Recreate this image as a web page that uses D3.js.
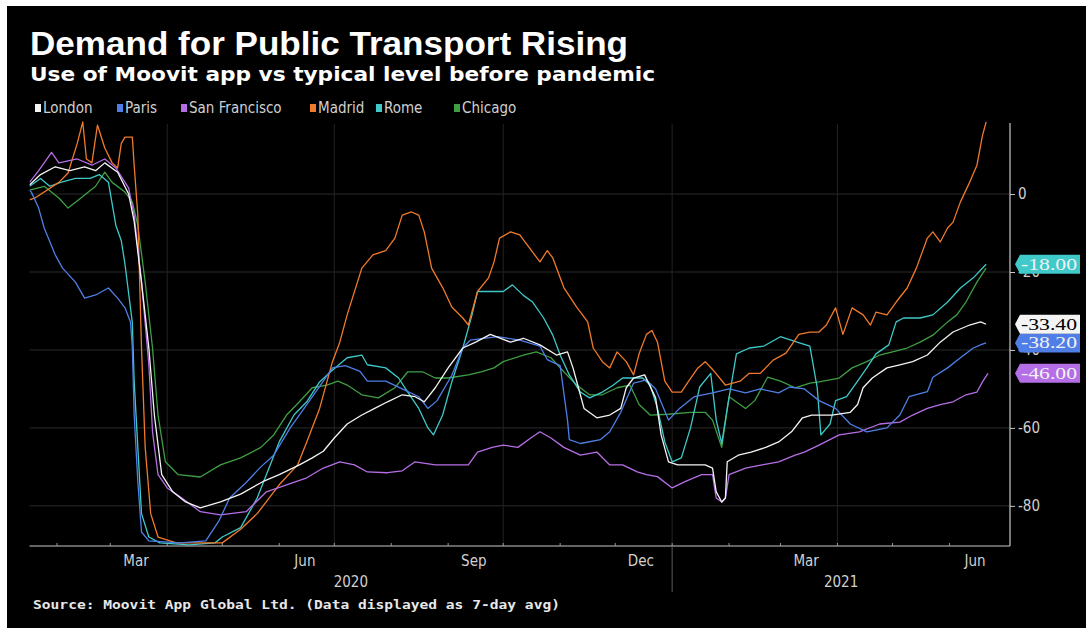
<!DOCTYPE html>
<html>
<head>
<meta charset="utf-8">
<script src="https://cdn.jsdelivr.net/npm/d3@7"></script>
<style>
  html, body { margin: 0; padding: 0; background: #ffffff; }
  svg { display: block; }
</style>
</head>
<body>
<svg id="chart" width="1092" height="635"></svg>
<script>
// Moovit app usage vs pre-pandemic typical level (%), 7-day average.
// Each point is [days since 2020-01-17, value].
const startDate = new Date(2020, 0, 17);

const london = [[0,2.3],[6,5],[14,7],[22,6],[30,7],[36,6],[41,8],[48,5.6],[54,0],[57,-7],[61,-22.6],[65,-39.5],[68,-56.7],[72,-72],[78,-76.4],[85,-79],[93,-80.5],[104,-79],[115,-77],[127,-73.8],[136,-72],[147,-69.5],[154,-67.7],[160,-66],[166,-62.6],[173,-59],[181,-56.7],[188,-55],[195,-53.3],[203,-51.5],[210,-52],[215,-53.3],[221,-49.7],[228,-44.6],[236,-39.5],[243,-38],[251,-36],[262,-38],[269,-37],[278,-38.7],[287,-41.3],[293,-40.5],[296,-44.6],[300,-51.5],[302,-55],[309,-57.4],[316,-56.7],[322,-55],[325,-49.7],[329,-47.2],[335,-46.4],[341,-52.3],[344,-61.8],[348,-68.7],[353,-69.5],[361,-69.5],[368,-69.5],[372,-70.3],[374,-76.4],[377,-79],[379,-78],[380,-68.7],[386,-67],[393,-66.2],[401,-65],[408,-63.6],[415,-61],[421,-57.4],[426,-56.7],[437,-56.7],[447,-56],[451,-54],[454,-49.7],[459,-47.2],[467,-44.6],[474,-43.8],[481,-43],[489,-41.3],[496,-38],[503,-35.4],[512,-33.6],[518,-32.8],[521,-33.4]];

const paris = [[0,1],[1,0.5],[5,-3.6],[8,-8.7],[14,-15.6],[18,-19],[25,-22.6],[30,-26.7],[36,-25.9],[43,-24.1],[48,-26.7],[52,-29.2],[55,-32.8],[56,-39.5],[57,-56.7],[59,-73.8],[61,-86.7],[65,-89],[82,-89.5],[96,-89],[103,-84],[109,-78],[118,-74],[126,-70],[133,-67],[142,-60],[151,-54],[160,-48],[165,-44.6],[172,-44],[180,-45.5],[184,-48],[194,-48],[203,-50],[212,-52],[217,-55],[222,-53],[230,-46.5],[236,-39.5],[240,-37.5],[255,-36.6],[267,-37.5],[278,-39],[282,-42.5],[289,-44],[293,-58],[294,-63],[300,-64],[311,-63],[316,-61],[322,-56],[329,-48.5],[336,-47.7],[341,-50],[348,-58],[354,-55],[362,-52],[372,-51],[381,-50],[390,-51],[398,-50],[408,-51],[414,-49.5],[422,-50],[430,-53],[439,-55],[447,-59],[456,-61],[467,-60],[474,-56.7],[479,-52],[489,-50.7],[492,-47],[500,-44.6],[507,-42],[514,-39.5],[519,-38.5],[521,-38.2]];

const sanFrancisco = [[0,3],[5,6],[8,8],[12,10.7],[16,8],[21,8.5],[26,9],[34,7.4],[41,9],[47,6.7],[54,1.5],[57,-5.4],[61,-22.6],[65,-43.8],[67,-61],[70,-72],[75,-75.4],[83,-78],[93,-81.5],[104,-82.3],[118,-81.5],[129,-76.4],[140,-74.6],[151,-72.8],[160,-70.3],[169,-68.7],[177,-69.5],[184,-71.3],[195,-71.5],[203,-71],[210,-68.7],[221,-69.5],[230,-69.5],[239,-69.5],[244,-66.2],[252,-65],[258,-64.4],[266,-65],[273,-62.6],[278,-61],[284,-62.6],[291,-65],[300,-67],[309,-66.2],[316,-69.5],[323,-69.5],[331,-71.3],[336,-72],[342,-72.5],[350,-75.4],[357,-73.8],[366,-72],[372,-72],[374,-78],[377,-79],[379,-78],[381,-72],[390,-70.3],[399,-69.5],[408,-68.7],[417,-67],[422,-66.2],[430,-64.4],[441,-61.8],[452,-61],[463,-59],[474,-58.5],[481,-56.7],[489,-55],[496,-54],[503,-53.3],[510,-51.5],[516,-50.8],[519,-48.2],[522,-46]];

const madrid = [[0,-1.5],[3,-1],[16,3],[21,5.4],[26,13],[29,18.5],[31,9],[34,8],[37,17.7],[41,11.8],[45,8],[48,6.7],[50,13],[52,14.6],[56,14.6],[57,7.4],[59,-5.4],[61,-39.5],[63,-65],[66,-82],[70,-88],[80,-89.5],[93,-89.5],[105,-89.5],[115,-86],[124,-82],[136,-74.6],[146,-69.5],[151,-63.6],[158,-55],[165,-43],[169,-38],[173,-31],[181,-19],[187,-15.6],[194,-14.5],[199,-11.3],[203,-5.4],[208,-4.6],[212,-5.4],[215,-9.7],[219,-19],[225,-24],[230,-29],[236,-31.8],[239,-33.6],[244,-25],[250,-21.5],[253,-17.4],[256,-11.3],[262,-9.7],[267,-10.5],[274,-14.9],[278,-17.4],[282,-14.5],[285,-16.4],[291,-24],[298,-29],[304,-32.8],[307,-39.5],[312,-43],[316,-44.6],[320,-40.5],[325,-43],[329,-46.4],[332,-41],[336,-36],[339,-35],[342,-38],[346,-48],[350,-50.8],[355,-50.8],[359,-48],[364,-44.6],[368,-43],[372,-45],[379,-49],[387,-48],[392,-46],[398,-46],[405,-42.6],[412,-40.8],[419,-36],[425,-35.4],[430,-35.4],[434,-33.6],[439,-29.2],[443,-36],[448,-29.2],[454,-31],[458,-33.6],[461,-30.3],[467,-31],[472,-27.7],[478,-24.1],[483,-19],[489,-11.3],[492,-9.7],[496,-12.3],[500,-8.7],[503,-7.2],[507,-2],[512,3],[516,7.4],[519,15],[521,18.5]];

const rome = [[0,2],[6,4],[11,2],[17,3],[25,4],[33,4],[38,5],[43,3],[47,-8],[50,-12],[52,-18],[56,-33],[57,-48],[59,-65],[61,-82],[65,-88],[71,-89.5],[87,-90],[101,-89.5],[105,-88],[115,-85.6],[124,-78],[129,-72],[136,-63.6],[144,-56.7],[151,-53.3],[158,-48.2],[164,-45.6],[173,-42],[181,-41.3],[184,-43.8],[194,-44.6],[201,-47.2],[206,-50.8],[212,-55],[217,-60],[220,-61.8],[225,-56.7],[230,-48.2],[236,-39.5],[241,-31],[244,-25],[251,-25],[258,-25],[263,-23.3],[269,-26],[274,-27.7],[280,-31.8],[285,-36.2],[289,-41.3],[294,-46.4],[300,-50.8],[305,-52.3],[312,-50.8],[318,-49],[323,-47.2],[334,-47.2],[338,-49],[342,-55],[346,-63.6],[350,-68.7],[355,-67.7],[360,-60],[365,-49.5],[371,-46],[374,-58],[377,-64],[380,-55],[385,-41],[392,-39.5],[400,-39],[409,-36.6],[418,-38],[425,-39],[429,-49.7],[431,-61.8],[436,-59],[439,-53],[445,-52],[451,-48],[456,-44.6],[461,-41],[468,-38.7],[472,-32.8],[476,-31.8],[485,-31.8],[492,-31],[500,-27.7],[507,-24.1],[514,-21.5],[521,-18]];

const chicago = [[0,1],[8,2],[16,-1],[21,-3.6],[28,-1],[36,2],[41,5.6],[45,3],[52,0.5],[56,-2],[59,-8],[63,-22.6],[67,-39.5],[70,-56.7],[74,-68.7],[81,-72],[93,-72.6],[104,-69.5],[115,-67.7],[126,-65],[133,-61.8],[140,-56.7],[147,-53.3],[154,-49.7],[162,-49],[168,-48],[173,-49],[181,-51.5],[190,-52.3],[199,-49.7],[206,-45.6],[214,-45.6],[221,-47.2],[228,-47.2],[239,-46.4],[246,-45.6],[253,-44.6],[258,-43],[269,-41.3],[276,-40.5],[284,-42],[291,-45.6],[298,-49],[305,-51.5],[312,-51.5],[320,-49.7],[327,-49],[332,-54],[338,-56.7],[348,-56.5],[360,-56],[368,-56],[372,-58],[377,-65],[381,-52],[390,-55],[395,-53],[402,-47],[409,-48],[417,-49.7],[425,-48.5],[430,-48.2],[441,-47.2],[448,-44.6],[456,-43],[463,-41.3],[470,-40.5],[478,-39.5],[485,-38],[492,-36.2],[500,-32.8],[505,-31],[510,-27.7],[516,-22.6],[521,-19]];

const seriesNames  = ["London", "Paris", "San Francisco", "Madrid", "Rome", "Chicago"];
const seriesData   = [london, paris, sanFrancisco, madrid, rome, chicago];
const seriesColors = ["#f4f4f4", "#4f7fe6", "#b56ee6", "#f07a2c", "#3fc9c9", "#3e9e44"];

// series that carry an end-of-line value tag (drawn in this order)
const tagged = ["Rome", "San Francisco", "Paris", "London"];

const yTickValues = [0, -20, -40, -60, -80];
const monthTickDates  = ["2020-03-15", "2020-06-15", "2020-09-15", "2020-12-15", "2021-03-15", "2021-06-15"];
const monthTickLabels = ["Mar", "Jun", "Sep", "Dec", "Mar", "Jun"];
const yearLabels = ["2020", "2021"];
const gridDates = ["2020-04-01", "2020-07-01", "2020-10-01", "2021-01-01", "2021-04-01"];

const titleText = "Demand for Public Transport Rising";
const subtitleText = "Use of Moovit app vs typical level before pandemic";
const sourceText = "Source: Moovit App Global Ltd. (Data displayed as 7-day avg)";

// ---------------------------------------------------------------
const parseDay = d3.timeParse("%Y-%m-%d");
const dayToDate = n => d3.timeDay.offset(startDate, n);

const W = 1092, H = 635;
const plot = { left: 29.5, right: 1010, top: 120, bottom: 546 };

const x = d3.scaleTime()
  .domain([startDate, parseDay("2021-07-04")])
  .range([plot.left, plot.right]);
const y = d3.scaleLinear()
  .domain([-90.3, 19])
  .range([plot.bottom, plot.top]);

const svg = d3.select("#chart");
const narrow = "'Liberation Sans Narrow', 'DejaVu Sans Condensed', sans-serif";
const condensed = "'DejaVu Sans Condensed', 'Liberation Sans Narrow', sans-serif";

// panel
svg.append("rect").attr("x", 0).attr("y", 0).attr("width", W).attr("height", H).attr("fill", "#ffffff");
svg.append("rect").attr("x", 7).attr("y", 6).attr("width", 1079).attr("height", 622).attr("fill", "#000000");

// titles
svg.append("text").text(titleText)
  .attr("x", 30).attr("y", 55)
  .attr("fill", "#ffffff")
  .attr("font-family", "'Liberation Sans', Arial, sans-serif")
  .attr("font-weight", "bold").attr("font-size", 33)
  .attr("textLength", 598).attr("lengthAdjust", "spacingAndGlyphs");
svg.append("text").text(subtitleText)
  .attr("x", 30).attr("y", 81)
  .attr("fill", "#ffffff")
  .attr("font-family", "'DejaVu Sans', sans-serif")
  .attr("font-weight", "bold").attr("font-size", 19)
  .attr("textLength", 625).attr("lengthAdjust", "spacingAndGlyphs");

// legend
const legendX = [35, 117, 181, 310, 376, 454];
const legend = svg.append("g");
seriesNames.forEach((name, i) => {
  legend.append("rect")
    .attr("x", legendX[i]).attr("y", 104).attr("width", 6).attr("height", 8)
    .attr("fill", seriesColors[i]);
  legend.append("text").text(name)
    .attr("x", legendX[i] + 8).attr("y", 113)
    .attr("fill", "#d0d0d0")
    .attr("font-family", condensed).attr("font-size", 15);
});

// grid
const grid = svg.append("g");
grid.selectAll("line.h").data(yTickValues).join("line")
  .attr("x1", plot.left).attr("x2", plot.right)
  .attr("y1", d => y(d)).attr("y2", d => y(d))
  .attr("stroke", "#2b2b2b").attr("stroke-width", 1);
grid.selectAll("line.v").data(gridDates).join("line")
  .attr("x1", d => x(parseDay(d))).attr("x2", d => x(parseDay(d)))
  .attr("y1", plot.top + 4).attr("y2", plot.bottom)
  .attr("stroke", "#222222").attr("stroke-width", 1);

// lines
svg.append("clipPath").attr("id", "plotClip")
  .append("rect").attr("x", plot.left).attr("y", 112)
  .attr("width", plot.right - plot.left).attr("height", plot.bottom - 112);

const line = d3.line()
  .x(d => x(dayToDate(d[0])))
  .y(d => y(d[1]));

const lines = svg.append("g").attr("clip-path", "url(#plotClip)");
for (let i = seriesData.length - 1; i >= 0; i--) {
  lines.append("path")
    .datum(seriesData[i])
    .attr("d", line)
    .attr("fill", "none")
    .attr("stroke", seriesColors[i])
    .attr("stroke-width", 1.3)
    .attr("stroke-linejoin", "round");
}

// x axis
const xAxisG = svg.append("g");
xAxisG.append("line")
  .attr("x1", plot.left).attr("x2", plot.right)
  .attr("y1", plot.bottom).attr("y2", plot.bottom)
  .attr("stroke", "#c8c8c8").attr("stroke-width", 1.2);
const monthStarts = d3.timeMonth.range(parseDay("2020-02-01"), parseDay("2021-07-01"));
xAxisG.selectAll("line.mt").data(monthStarts).join("line")
  .attr("x1", d => x(d)).attr("x2", d => x(d))
  .attr("y1", plot.bottom - 3).attr("y2", plot.bottom)
  .attr("stroke", "#9a9a9a");
xAxisG.selectAll("text.m").data(monthTickDates).join("text")
  .text((d, i) => monthTickLabels[i])
  .attr("x", d => x(parseDay(d))).attr("y", 566)
  .attr("text-anchor", "middle")
  .attr("fill", "#d0d0d0")
  .attr("font-family", narrow).attr("font-size", 15);
const yearEdge = x(parseDay("2021-01-01"));
xAxisG.append("line")
  .attr("x1", yearEdge).attr("x2", yearEdge)
  .attr("y1", plot.bottom).attr("y2", 592)
  .attr("stroke", "#5a5a5a");
const yearCenters = [(plot.left + yearEdge) / 2, (yearEdge + plot.right) / 2];
yearLabels.forEach((t, i) => {
  xAxisG.append("text").text(t)
    .attr("x", yearCenters[i]).attr("y", 587)
    .attr("text-anchor", "middle")
    .attr("fill", "#d0d0d0")
    .attr("font-family", narrow).attr("font-size", 15);
});

// y axis on the right
const yAxis = d3.axisRight(y).tickValues(yTickValues).tickSize(5).tickPadding(3).tickFormat(d => String(d));
const yAxisG = svg.append("g").attr("transform", `translate(${plot.right},0)`).call(yAxis);
yAxisG.select(".domain").attr("stroke", "#c8c8c8").attr("stroke-width", 1.2)
  .attr("d", `M0,123V${plot.bottom}`);
yAxisG.selectAll(".tick line").attr("stroke", "#c8c8c8");
yAxisG.selectAll(".tick text")
  .attr("fill", "#d0d0d0")
  .attr("font-family", narrow).attr("font-size", 15);

// end-of-line value tags
const tagFmt = v => v.toFixed(2);
const tags = svg.append("g");
tagged.forEach(name => {
  const i = seriesNames.indexOf(name);
  const last = seriesData[i][seriesData[i].length - 1];
  const yc = y(last[1]);
  const x0 = 1015, w = 65, h = 19;
  tags.append("path")
    .attr("d", `M${x0},${yc} L${x0 + 5},${yc - h / 2} H${x0 + w} V${yc + h / 2} H${x0 + 5} Z`)
    .attr("fill", seriesColors[i]);
  tags.append("text").text(tagFmt(last[1]))
    .attr("x", x0 + 6).attr("y", yc + 5.5)
    .attr("fill", name === "London" ? "#000000" : "#f2f2f2")
    .attr("font-family", "'Liberation Serif', serif").attr("font-size", 16)
    .attr("textLength", w - 9).attr("lengthAdjust", "spacingAndGlyphs");
});

// source
svg.append("text").text(sourceText)
  .attr("x", 33).attr("y", 609)
  .attr("fill", "#e8e8e8")
  .attr("font-family", "'DejaVu Sans Mono', monospace")
  .attr("font-weight", "bold").attr("font-size", 13)
  .attr("textLength", 527).attr("lengthAdjust", "spacingAndGlyphs");
</script>
</body>
</html>
